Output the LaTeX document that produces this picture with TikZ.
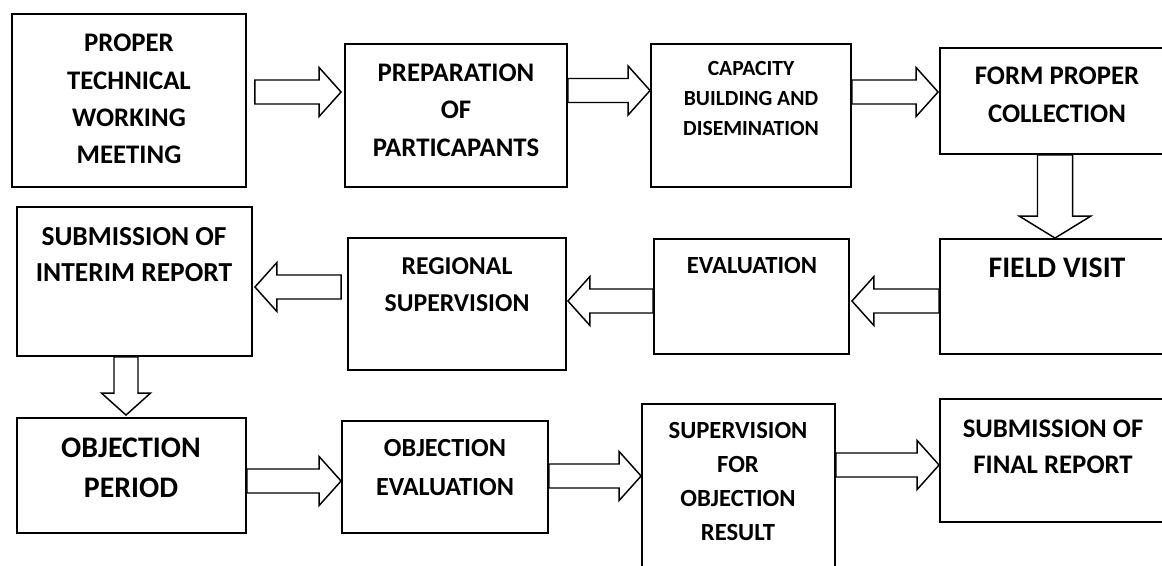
\documentclass[tikz,border=0pt]{standalone}
\usepackage{fontspec}
\setmainfont{Carlito}
\usepackage{tikz}
\usetikzlibrary{calc,fit}

\newcommand{\fsz}[2]{\fontsize{#1}{#2}\selectfont\bfseries}
\newcommand{\blockarrow}[3][1]{%
  \coordinate (bt) at (#2);
  \coordinate (bh) at (#3);
  \coordinate (bb) at ($(bh)!16.5pt!(bt)$);
  \draw[blk] ($(bt)!#1*9pt!90:(bh)$) -- ($(bb)!#1*9pt!90:(bh)$)
    -- ($(bb)!#1*18.4pt!90:(bh)$) -- (bh)
    -- ($(bb)!#1*18.4pt!-90:(bh)$) -- ($(bb)!#1*9pt!-90:(bh)$)
    -- ($(bt)!#1*9pt!-90:(bh)$) -- cycle;}

\begin{document}
\begin{tikzpicture}[x=0.75pt,y=-0.75pt,
                    box/.style={draw,line width=1.4pt,inner sep=0pt},
                    lbl/.style={align=center,inner sep=0pt},
                    blk/.style={draw,line width=1.1pt,fill=white,line join=miter}]

  \path[use as bounding box,clip] (0,0) rectangle (1162,565);
  \fill[white] (0,0) rectangle (1162,565);

  \node[box, fit={(12,14) (246,187)}]   (b1)  {};
  \node[box, fit={(345,44) (567,187)}]  (b2)  {};
  \node[box, fit={(651,44) (851,187)}]  (b3)  {};
  \node[box, fit={(940,48) (1170,154)}] (b4)  {};
  \node[box, fit={(17,207) (252,356)}]  (b5)  {};
  \node[box, fit={(348,238) (566,370)}] (b6)  {};
  \node[box, fit={(654,239) (849,354)}] (b7)  {};
  \node[box, fit={(940,239) (1170,354)}] (b8) {};
  \node[box, fit={(17,418) (246,533)}]  (b9)  {};
  \node[box, fit={(342,421) (548,533)}] (b10) {};
  \node[box, fit={(642,404) (835,600)}] (b11) {};
  \node[box, fit={(940,399) (1170,522)}] (b12) {};

  \node[lbl, font=\fsz{20.1}{28}]   (t1)  at (129,99)    {PROPER\\TECHNICAL\\WORKING\\MEETING};
  \node[lbl, font=\fsz{20.1}{28.1}] (t2)  at (456,110)   {PREPARATION\\OF\\PARTICAPANTS};
  \node[lbl, font=\fsz{16.2}{22.5}] (t3)  at (751,98)    {CAPACITY\\BUILDING AND\\DISEMINATION};
  \node[lbl, font=\fsz{20.1}{28.5}] (t4)  at (1057,95)   {FORM PROPER\\COLLECTION};
  \node[lbl, font=\fsz{20.6}{27}]   (t5)  at (134,255)   {SUBMISSION OF\\INTERIM REPORT};
  \node[lbl, font=\fsz{19.3}{27.75}] (t6) at (457,284.5) {REGIONAL\\SUPERVISION};
  \node[lbl, font=\fsz{18.5}{24}]   (t7)  at (752,265)   {EVALUATION};
  \node[lbl, font=\fsz{22.4}{28}]   (t8)  at (1057,268)  {FIELD VISIT};
  \node[lbl, font=\fsz{22.4}{30}]   (t9)  at (131,468)   {OBJECTION\\PERIOD};
  \node[lbl, font=\fsz{19.6}{29.25}] (t10) at (445,467.5) {OBJECTION\\EVALUATION};
  \node[lbl, font=\fsz{18.5}{25.7}] (t11) at (738,481.5) {SUPERVISION\\FOR\\OBJECTION\\RESULT};
  \node[lbl, font=\fsz{20.1}{27}]   (t12) at (1053,447)  {SUBMISSION OF\\FINAL REPORT};

  \blockarrow{[shift={(8,-8.5)}]b1.east}{[shift={(-3,-23.5)}]b2.west}
  \blockarrow{[shift={(0,-25)}]b2.east}{[shift={(0,-25)}]b3.west}
  \blockarrow{[shift={(0,-23.5)}]b3.east}{[shift={(-1,-9)}]b4.west}
  \blockarrow[1.46]{b4.south}{b8.north}
  \blockarrow{[shift={(0,4.5)}]b8.west}{[shift={(2,4.5)}]b7.east}
  \blockarrow{[shift={(0,4.5)}]b7.west}{[shift={(1,-3)}]b6.east}
  \blockarrow{[shift={(-6,-17)}]b6.west}{[shift={(2,5.5)}]b5.east}
  \blockarrow{[shift={(-8.5,0)}]b5.south}{[shift={(-5.5,-2)}]b9.north}
  \blockarrow{[shift={(0,5.5)}]b9.east}{[shift={(0,4)}]b10.west}
  \blockarrow{[shift={(0,-1)}]b10.east}{[shift={(0,-26)}]b11.west}
  \blockarrow{[shift={(0,-37)}]b11.east}{[shift={(0,4.5)}]b12.west}
\end{tikzpicture}
\end{document}
